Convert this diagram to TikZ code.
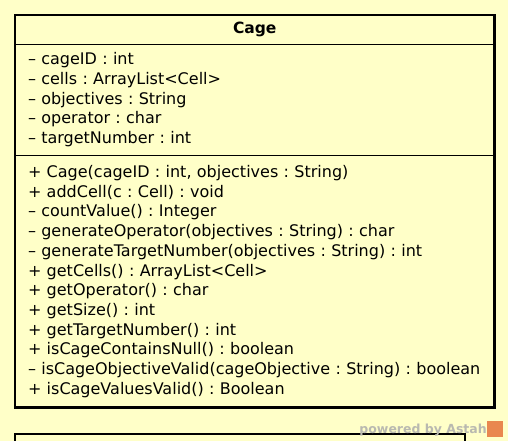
\documentclass[tikz,border=0pt]{standalone}
\usepackage{fontspec}
\setmainfont{DejaVu Sans}
\frenchspacing
\usetikzlibrary{positioning}
\definecolor{classbg}{HTML}{FFFFC8}
\definecolor{astahgray}{HTML}{B9B9B0}
\definecolor{astahorange}{HTML}{E9874F}

\begin{document}
\begin{tikzpicture}[x=1pt, y=-1pt, node distance=0pt,
  compart/.style={draw, line width=0.9pt, outer sep=0pt, text width=453.5pt,
    inner xsep=13pt, inner ysep=0pt, align=left, anchor=north,
    font=\fontsize{16}{19.7}\selectfont},
  frame/.style={line width=2.6pt}]
  \useasboundingbox (0,0) rectangle (508,441);
  \fill[classbg] (0,0) rectangle (508,441);
  \clip (0,0) rectangle (508,441);

  \node[compart, minimum height=29pt, align=center, font=\bfseries\fontsize{15.5}{17}\selectfont] (title) at (254.75,15) {Cage};
  \node[compart, minimum height=111.5pt, below=of title] (attrs) {%
    -- cageID : int\\
    -- cells : ArrayList<Cell>\\
    -- objectives : String\\
    -- operator : char\\
    -- targetNumber : int};
  \node[compart, minimum height=252pt, below=of attrs] (ops) {%
    + Cage(cageID : int, objectives : String)\\
    + addCell(c : Cell) : void\\
    -- countValue() : Integer\\
    -- generateOperator(objectives : String) : char\\
    -- generateTargetNumber(objectives : String) : int\\
    + getCells() : ArrayList<Cell>\\
    + getOperator() : char\\
    + getSize() : int\\
    + getTargetNumber() : int\\
    + isCageContainsNull() : boolean\\
    -- isCageObjectiveValid(cageObjective : String) : boolean\\
    + isCageValuesValid() : Boolean};
  \draw[frame] (title.north west) rectangle (ops.south east);

  \draw[frame] (15,460) |- (465,434) -- (465,460);

  \node[anchor=base east, inner sep=0pt, text=astahgray, font=\bfseries\fontsize{12.5}{12.5}\selectfont] (mark) at (487,433) {powered by Astah};
  \node[fill=astahorange, minimum size=16pt, inner sep=0pt] (logo) at (495,428.5) {};
\end{tikzpicture}
\end{document}
